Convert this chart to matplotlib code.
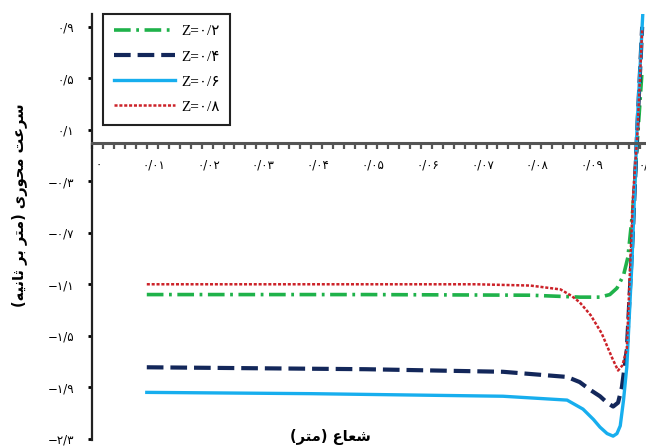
import matplotlib
matplotlib.use("Agg")
import matplotlib.pyplot as plt
import matplotlib.transforms as mtransforms
from matplotlib.ticker import MultipleLocator, FixedLocator
from matplotlib.font_manager import FontProperties

plt.rcParams["lines.scale_dashes"] = False

# ---- data ------------------------------------------------------------------
x_z02 = [0.010, 0.050, 0.080, 0.0891, 0.0927, 0.0945, 0.0958, 0.0970, 0.0978, 0.0987, 0.0995, 0.1004]
y_z02 = [-1.18, -1.18, -1.185, -1.20, -1.20, -1.18, -1.13, -1.03, -0.89, -0.52, 0.00, 0.57]

x_z04 = [0.010, 0.050, 0.075, 0.0867, 0.0890, 0.0909, 0.0927, 0.0940, 0.0951, 0.0960, 0.0967, 0.0976, 0.0987, 0.0995, 0.1004]
y_z04 = [-1.745, -1.76, -1.78, -1.82, -1.86, -1.92, -1.97, -2.02, -2.05, -2.02, -1.90, -1.61, -0.70, 0.10, 0.90]

x_z06 = [0.010, 0.040, 0.075, 0.0867, 0.0896, 0.0915, 0.0927, 0.0940, 0.0951, 0.0958, 0.0964, 0.0970, 0.0976, 0.0985, 0.0995, 0.1005]
y_z06 = [-1.94, -1.95, -1.97, -2.00, -2.07, -2.15, -2.21, -2.26, -2.28, -2.26, -2.20, -2.00, -1.74, -0.96, 0.15, 0.99]

x_z08 = [0.010, 0.040, 0.070, 0.080, 0.0855, 0.0875, 0.0890, 0.0910, 0.0930, 0.0950, 0.0960, 0.0968, 0.0976, 0.0987, 0.0995, 0.1004]
y_z08 = [-1.10, -1.10, -1.10, -1.11, -1.14, -1.19, -1.24, -1.34, -1.48, -1.68, -1.77, -1.73, -1.60, -0.44, 0.05, 0.88]

labels = ["Z=۰/۲", "Z=۰/۴", "Z=۰/۶", "Z=۰/۸"]

xticks = [0.0, 0.01, 0.02, 0.03, 0.04, 0.05, 0.06, 0.07, 0.08, 0.09, 0.1]
xticklabels = ["۰", "۰/۰۱", "۰/۰۲", "۰/۰۳", "۰/۰۴", "۰/۰۵", "۰/۰۶", "۰/۰۷", "۰/۰۸", "۰/۰۹", "۰/۱"]
yticks = [0.9, 0.5, 0.1, -0.3, -0.7, -1.1, -1.5, -1.9, -2.3]
yticklabels = ["۰/۹", "۰/۵", "۰/۱", "−۰/۳", "−۰/۷", "−۱/۱", "−۱/۵", "−۱/۹", "−۲/۳"]

xlabel = "شعاع (متر)"
ylabel = "سرعت محوری (متر بر ثانیه)"

GREEN = "#1FB24A"
NAVY = "#13275A"
SKY = "#17AEEE"
RED = "#CC2229"

# ---- tiny Persian shaper (matplotlib does no Arabic shaping) ---------------
# isolated, final, initial, medial ; None = letter does not join forward
FORMS = {
    "ا": (0xFE8D, 0xFE8E, None, None),
    "ب": (0xFE8F, 0xFE90, 0xFE91, 0xFE92),
    "ت": (0xFE95, 0xFE96, 0xFE97, 0xFE98),
    "ث": (0xFE99, 0xFE9A, 0xFE9B, 0xFE9C),
    "ح": (0xFEA1, 0xFEA2, 0xFEA3, 0xFEA4),
    "ر": (0xFEAD, 0xFEAE, None, None),
    "س": (0xFEB1, 0xFEB2, 0xFEB3, 0xFEB4),
    "ش": (0xFEB5, 0xFEB6, 0xFEB7, 0xFEB8),
    "ع": (0xFEC9, 0xFECA, 0xFECB, 0xFECC),
    "م": (0xFEE1, 0xFEE2, 0xFEE3, 0xFEE4),
    "ن": (0xFEE5, 0xFEE6, 0xFEE7, 0xFEE8),
    "ه": (0xFEE9, 0xFEEA, 0xFEEB, 0xFEEC),
    "و": (0xFEED, 0xFEEE, None, None),
    "ی": (0xFEEF, 0xFEF0, 0xFEF3, 0xFEF4),
}


def shape(text):
    out = []
    for i, ch in enumerate(text):
        if ch not in FORMS:
            out.append(ch)
            continue
        prev = text[i - 1] if i > 0 else ""
        nxt = text[i + 1] if i + 1 < len(text) else ""
        jp = prev in FORMS and FORMS[prev][2] is not None
        jn = nxt in FORMS and FORMS[ch][2] is not None
        iso, fin, ini, med = FORMS[ch]
        if jp and jn:
            code = med
        elif jp:
            code = fin
        elif jn:
            code = ini
        else:
            code = iso
        out.append(chr(code))
    vis = "".join(out)[::-1]
    return vis.translate(str.maketrans("()", ")("))


# ---- figure ----------------------------------------------------------------
fig = plt.figure(figsize=(6.46, 4.47), dpi=100)
ax = fig.add_axes([92 / 646, 7 / 447, 1 - 92 / 646, 426 / 447])

ax.plot(x_z02, y_z02, color=GREEN, lw=2.6, dashes=(12, 4, 2, 4), label=labels[0])
ax.plot(x_z04, y_z04, color=NAVY, lw=3.0, dashes=(12, 5), label=labels[1])
ax.plot(x_z06, y_z06, color=SKY, lw=2.4, label=labels[2])
ax.plot(x_z08, y_z08, color=RED, lw=1.8, dashes=(2.2, 1.3), label=labels[3])

ax.set_xlim(0, 0.1011)
ax.set_ylim(-2.31, 1.0)

for s in ["top", "right"]:
    ax.spines[s].set_visible(False)
ax.spines["bottom"].set_position(("data", 0))
ax.spines["bottom"].set_color("#555555")
ax.spines["bottom"].set_linewidth(2.2)
ax.spines["left"].set_linewidth(1.6)
ax.spines["left"].set_color("#222222")

dig = ["DejaVu Sans"]
ax.xaxis.set_major_locator(FixedLocator(xticks))
ax.set_xticklabels(xticklabels, family=dig, fontsize=8.5)
ax.xaxis.set_minor_locator(MultipleLocator(0.002))
ax.tick_params(axis="x", which="both", direction="out", length=4.5, width=1.6,
               color="#555555", pad=7)
shift = mtransforms.ScaledTranslation(5 / 72, 0, fig.dpi_scale_trans)
for lbl in ax.get_xticklabels():
    lbl.set_bbox(dict(facecolor="white", edgecolor="none", pad=5))
    lbl.set_transform(lbl.get_transform() + shift)

ax.yaxis.set_major_locator(FixedLocator(yticks))
ax.set_yticklabels(yticklabels, family=dig, fontsize=8.5)
ax.tick_params(axis="y", direction="out", length=3, width=2, pad=10)

leg = ax.legend(loc="upper left", bbox_to_anchor=(0.02, 1.0), borderaxespad=0,
                handlelength=4.0, labelspacing=0.75, borderpad=0.7,
                handletextpad=0.4, fancybox=False, framealpha=1,
                prop=FontProperties(family=["Liberation Serif", "DejaVu Sans"], size=11))
leg.get_frame().set_edgecolor("#222222")
leg.get_frame().set_linewidth(1.5)

fig.text(20 / 646, 1 - 205 / 447, shape(ylabel), rotation=90, ha="center",
         va="center", fontsize=10.5, fontweight="bold", family="DejaVu Sans")
fig.text(330 / 646, 1 - 437 / 447, shape(xlabel), ha="center", va="center",
         fontsize=10.5, fontweight="bold", family="DejaVu Sans")

fig.savefig("out.png", dpi=100)
